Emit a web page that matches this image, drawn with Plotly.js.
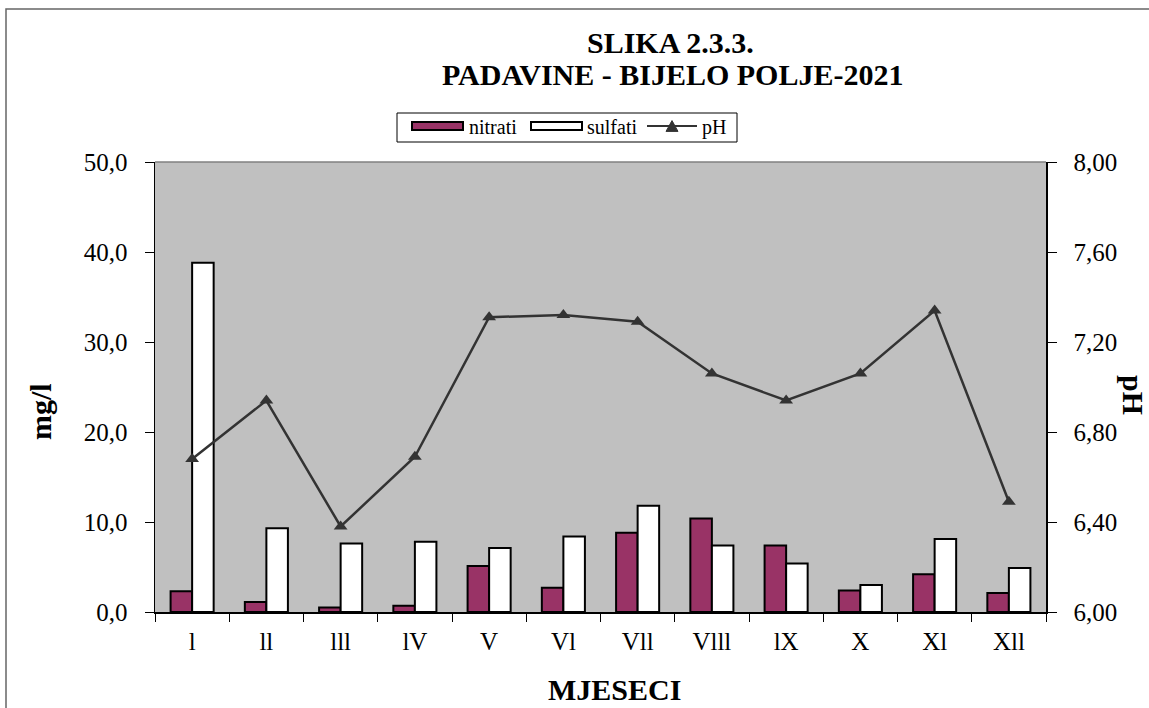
<!DOCTYPE html>
<html>
<head>
<meta charset="utf-8">
<script src="https://cdn.plot.ly/plotly-3.0.1.min.js"></script>
<style>html,body{margin:0;padding:0;background:#fff;}#chart{width:1149px;height:708px;}</style>
</head>
<body>
<div id="chart"></div>
<script>
const months = ['l','ll','lll','lV','V','Vl','Vll','Vlll','lX','X','Xl','Xll'];
const nitrati = [2.3, 1.1, 0.5, 0.7, 5.1, 2.7, 8.8, 10.4, 7.4, 2.4, 4.2, 2.1];
const sulfati = [38.8, 9.3, 7.6, 7.8, 7.1, 8.4, 11.8, 7.4, 5.4, 3.0, 8.1, 4.9];
const pH = [6.68, 6.94, 6.38, 6.69, 7.31, 7.32, 7.29, 7.06, 6.94, 7.06, 7.34, 6.49];
const leftTicks = [0, 10, 20, 30, 40, 50];
const rightTicks = [6.0, 6.4, 6.8, 7.2, 7.6, 8.0];

const W = 1149, H = 708;
const L = 155, R = 1046, T = 162, B = 612;
const px = x => (x - L) / (R - L);
const py = y => (B - y) / (B - T);
const FONT = '"Liberation Serif", "Times New Roman", serif';

const traces = [
  {type:'bar', name:'nitrati', x:months, y:nitrati,
   marker:{color:'#993366', line:{color:'#000', width:2}}, showlegend:false},
  {type:'bar', name:'sulfati', x:months, y:sulfati,
   marker:{color:'#ffffff', line:{color:'#000', width:2}}, showlegend:false},
  {type:'scatter', mode:'lines+markers', name:'pH', x:months, y:pH, yaxis:'y2',
   line:{color:'#333333', width:2.5},
   marker:{symbol:'triangle-up', size:12, color:'#333333'}, showlegend:false, cliponaxis:false}
];

const tri = (cx, cy, s) => {
  const p = [[cx - s, cy + s*0.9], [cx + s, cy + s*0.9], [cx, cy - s*0.9]];
  return 'M' + p.map(q => px(q[0]) + ',' + py(q[1])).join(' L') + ' Z';
};

const shapes = [
  {type:'rect', xref:'paper', yref:'paper', x0:px(6), y0:py(9), x1:px(1170), y1:py(730),
   line:{color:'#666', width:1.5}, fillcolor:'rgba(0,0,0,0)', layer:'below'},
  {type:'line', xref:'paper', yref:'paper', x0:0, x1:1, y0:1, y1:1, line:{color:'#808080', width:1.5}},
  {type:'rect', xref:'paper', yref:'paper', x0:px(397), y0:py(113), x1:px(737), y1:py(142),
   line:{color:'#000', width:1}, fillcolor:'#fff'},
  {type:'rect', xref:'paper', yref:'paper', x0:px(412), y0:py(122), x1:px(463), y1:py(130),
   line:{color:'#000', width:2}, fillcolor:'#993366'},
  {type:'rect', xref:'paper', yref:'paper', x0:px(531), y0:py(122), x1:px(582), y1:py(130),
   line:{color:'#000', width:2}, fillcolor:'#ffffff'},
  {type:'line', xref:'paper', yref:'paper', x0:px(647), x1:px(697), y0:py(126), y1:py(126),
   line:{color:'#333', width:2}},
  {type:'path', xref:'paper', yref:'paper', path:tri(672, 126, 6), fillcolor:'#333', line:{color:'#333', width:1}}
];

const ann = (text, x, y, size, bold, extra) => Object.assign({
  xref:'paper', yref:'paper', x:px(x), y:py(y), text: bold ? '<b>' + text + '</b>' : text,
  showarrow:false, xanchor:'center', yanchor:'middle',
  font:{family:FONT, size:size, color:'#000'}
}, extra || {});

const annotations = [
  ann('SLIKA 2.3.3.', 670, 42, 30, true),
  ann('PADAVINE - BIJELO POLJE-2021', 672, 74, 30, true),
  ann('nitrati', 467, 127, 20, false, {xanchor:'left'}),
  ann('sulfati', 585, 127, 20, false, {xanchor:'left'}),
  ann('pH', 700, 127, 20, false, {xanchor:'left'}),
  ann('mg/l', 40, 412, 30, true, {textangle:-90}),
  ann('pH', 1134, 395, 30, true, {textangle:90}),
  ann('MJESECI', 614, 689, 30, true)
];

const layout = {
  width:W, height:H,
  margin:{l:L, r:W - R, t:T, b:H - B, pad:0},
  paper_bgcolor:'#ffffff', plot_bgcolor:'#c0c0c0',
  separators:', ',
  barmode:'group', bargap:0.42, bargroupgap:0,
  font:{family:FONT, size:25, color:'#000'},
  showlegend:false,
  xaxis:{type:'category', range:[-0.5, months.length - 0.5], showgrid:false, zeroline:false,
    showline:true, linecolor:'#000', linewidth:1.5,
    ticks:'outside', tickson:'boundaries', ticklen:8, tickcolor:'#000', tickwidth:1,
    tickfont:{family:FONT, size:25}, ticklabelstandoff:6},
  yaxis:{range:[0,50], tickvals:leftTicks, tickformat:'.1f', showgrid:false, zeroline:false,
    showline:true, linecolor:'#000', linewidth:1.5, ticks:'outside', ticklen:9, tickcolor:'#000',
    tickfont:{family:FONT, size:25}, ticklabelstandoff:12},
  yaxis2:{range:[6,8], tickvals:rightTicks, tickformat:'.2f', overlaying:'y', side:'right',
    showgrid:false, zeroline:false, showline:true, linecolor:'#000', linewidth:1.5,
    ticks:'outside', ticklen:9, tickcolor:'#000', tickfont:{family:FONT, size:25}, ticklabelstandoff:12},
  shapes:shapes, annotations:annotations
};

Plotly.newPlot('chart', traces, layout, {displayModeBar:false, staticPlot:true});
</script>
</body>
</html>
